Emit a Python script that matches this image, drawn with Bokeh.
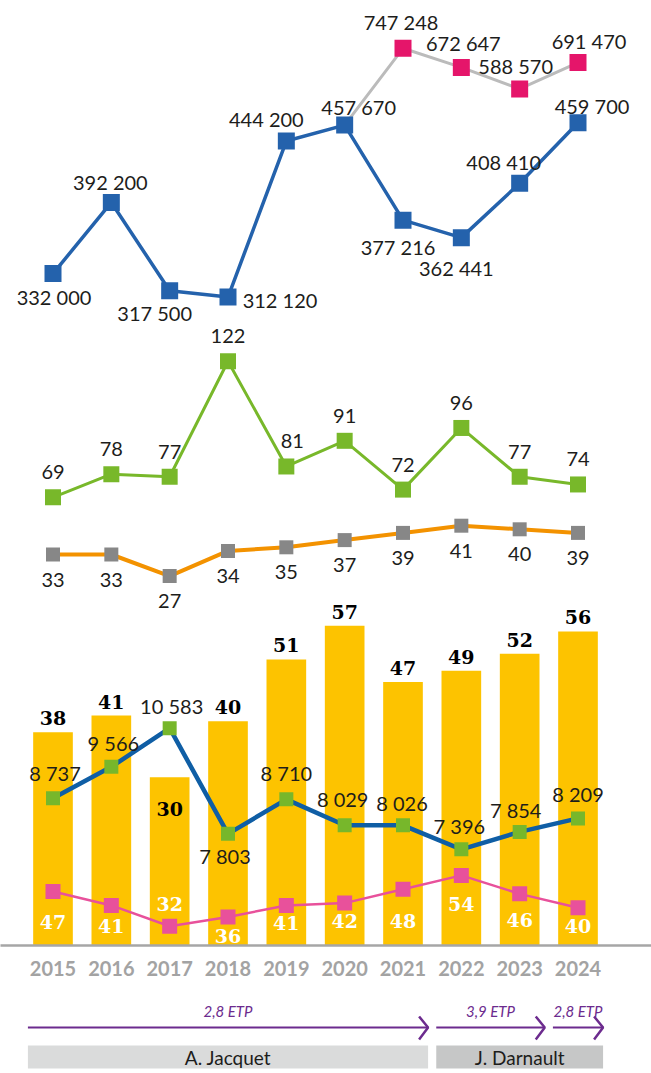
from bokeh.plotting import figure
from bokeh.models import Range1d, ColumnDataSource, LinearAxis, FixedTicker
from bokeh.layouts import column
from bokeh.embed import file_html
from bokeh.resources import INLINE
from bokeh.core.properties import value

# ---------------- data ----------------
years = [2015, 2016, 2017, 2018, 2019, 2020, 2021, 2022, 2023, 2024]
year_labels = ["2015", "2016", "2017", "2018", "2019", "2020", "2021", "2022", "2023", "2024"]

budget_bleu = [332000, 392200, 317500, 312120, 444200, 457670, 377216, 362441, 408410, 459700]
budget_rose_years = [2021, 2022, 2023, 2024]
budget_rose = [747248, 672647, 588570, 691470]

serie_verte = [69, 78, 77, 122, 81, 91, 72, 96, 77, 74]
serie_orange = [33, 33, 27, 34, 35, 37, 39, 41, 40, 39]

barres = [38, 41, 30, 40, 51, 57, 47, 49, 52, 56]
serie_bleue_bas = [8737, 9566, 10583, 7803, 8710, 8029, 8026, 7396, 7854, 8209]
serie_rose_bas = [47, 41, 32, 36, 41, 42, 48, 54, 46, 40]

etp_labels = ["2,8 ETP", "3,9 ETP", "2,8 ETP"]
etp_debut = [2015, 2022, 2024]
etp_fin = [2021, 2023, 2024]
personnes = ["A. Jacquet", "J. Darnault"]
pers_debut = [2015, 2022]
pers_fin = [2021, 2024]

# ---------------- layout / style ----------------
W = 651
BASE = 945          # frame bottom (bar baseline)
AXIS_H = 40
FRAME_H = BASE
H_MAIN = FRAME_H + AXIS_H
FOOT_H = 85
INK = "#1D1D1B"
PURPLE = "#6C2B8E"


def fmt(v):
    return f"{v:,}".replace(",", "\u00a0")


def lin_range(v1, p1, v2, p2, size):
    b = (v2 - v1) / (p2 - p1)
    start = v1 - b * p1
    return Range1d(start=start, end=start + b * size)


def yr(v1, y1, v2, y2):
    return lin_range(v1, BASE - y1, v2, BASE - y2, FRAME_H)


def convert(v, src, dst):
    frac = (v - src.start) / (src.end - src.start)
    return dst.start + frac * (dst.end - dst.start)


x_rng = lin_range(years[0], 52.5, years[-1], 577.5, W)
px_per_year = W / (x_rng.end - x_rng.start)

r_barres = yr(0, 945, 57, 625.3)
pA = figure(width=W, height=H_MAIN, x_range=x_rng, y_range=r_barres,
            output_backend="svg", toolbar_location=None,
            x_axis_location=None, y_axis_location=None,
            min_border=0, min_border_bottom=AXIS_H,
            outline_line_color=None, background_fill_color="white")
pA.grid.visible = False
pA.extra_y_ranges = {
    "bleu": yr(312120, 296.6, 459700, 122.2),
    "rose": yr(588570, 88.4, 747248, 47.8),
    "vert": yr(69, 496.8, 122, 360.7),
    "orange": yr(27, 575.6, 41, 525.2),
    "bleu_bas": yr(7396, 848.8, 10583, 727.7),
    "rose_bas": yr(32, 925.7, 54, 874.9),
}

ax = LinearAxis(ticker=FixedTicker(ticks=years),
                major_label_overrides={y: l for y, l in zip(years, year_labels)})
ax.axis_line_color = "#A6A6A6"
ax.axis_line_width = 2.5
ax.major_tick_line_color = None
ax.minor_tick_line_color = None
ax.major_label_text_font = "Lato"
ax.major_label_text_font_style = "bold"
ax.major_label_text_font_size = "20px"
ax.major_label_text_color = "#A3A3A3"
ax.major_label_standoff = 9
pA.add_layout(ax, "below")


def labels(p, xs, ys, texts, dx, dy, rname="default", size="20px", color=INK,
           font="Lato", style="normal"):
    src = ColumnDataSource(dict(x=xs, y=ys, t=texts, dx=dx, dy=dy))
    p.text(x="x", y="y", text="t", x_offset="dx", y_offset="dy", source=src,
           y_range_name=rname, text_align="center", text_baseline="middle",
           text_font=value(font), text_font_size=size, text_color=color,
           text_font_style=style)


# ---- bottom panel: bars + two lines ----
pA.vbar(x=years, top=barres, bottom=0, width=0.68, fill_color="#FDC300", line_color=None)

pA.line(years, serie_rose_bas, y_range_name="rose_bas", line_color="#E8519B", line_width=2.5)
pA.scatter(years, serie_rose_bas, y_range_name="rose_bas", marker="square", size=15,
           fill_color="#E8519B", line_color=None)

pA.line(years, serie_bleue_bas, y_range_name="bleu_bas", line_color="#0F5EA5", line_width=4.5,
        line_join="round")
pA.scatter(years, serie_bleue_bas, y_range_name="bleu_bas", marker="square", size=14,
           fill_color="#77B72B", line_color=None)

# ---- top panel ----
gris_x = [years[5]] + budget_rose_years
gris_y = [convert(budget_bleu[5], pA.extra_y_ranges["bleu"], pA.extra_y_ranges["rose"])] + budget_rose
pA.line(gris_x, gris_y, y_range_name="rose", line_color="#BBBBBB", line_width=3)
pA.line(years, budget_bleu, y_range_name="bleu", line_color="#2462AC", line_width=3.5,
        line_join="round")
pA.scatter(years, budget_bleu, y_range_name="bleu", marker="square", size=17,
           fill_color="#2462AC", line_color=None)
pA.scatter(budget_rose_years, budget_rose, y_range_name="rose", marker="square", size=17,
           fill_color="#E5156A", line_color=None)

# ---- middle panel ----
pA.line(years, serie_verte, y_range_name="vert", line_color="#78B82A", line_width=3,
        line_join="round")
pA.scatter(years, serie_verte, y_range_name="vert", marker="square", size=16,
           fill_color="#78B82A", line_color=None)
pA.line(years, serie_orange, y_range_name="orange", line_color="#F39200", line_width=4,
        line_join="round")
pA.scatter(years, serie_orange, y_range_name="orange", marker="square", size=14,
           fill_color="#878787", line_color=None)

# ---- labels ----
labels(pA, years, budget_bleu, [fmt(v) for v in budget_bleu],
       [1, -1, -15, 52, -20, 14, -5, -5, -16, 14],
       [23, -20, 22, 3, -22, -18, 27, 30, -21, -17], "bleu")
labels(pA, budget_rose_years, budget_rose, [fmt(v) for v in budget_rose],
       [-2, 2, -4, 11], [-26, -24, -23, -22], "rose")
labels(pA, years, serie_verte, [str(v) for v in serie_verte],
       [0, 0, 0, 0, 6, 0, 0, 0, 0, 0], [-25] * 10, "vert")
labels(pA, years, serie_orange, [str(v) for v in serie_orange],
       [0] * 10, [25] * 10, "orange")
labels(pA, years, barres, [str(v) for v in barres],
       [0] * 10, [-14, -14, 32, -14, -14, -14, -14, -14, -14, -14], "default",
       size="19px", font="DejaVu Serif", style="bold", color="#000000")
labels(pA, years, serie_bleue_bas, [fmt(v) for v in serie_bleue_bas],
       [2, 2, 2, -3, 0, -2, -1, -2, -4, 0],
       [-25, -24, -22, 22, -26, -26, -22, -23, -22, -24], "bleu_bas")
labels(pA, years, serie_rose_bas, [str(v) for v in serie_rose_bas],
       [0] * 10, [30, 21, -22, 19, 18, 18, 32, 29, 26, 18], "rose_bas",
       size="19px", font="DejaVu Serif", style="bold", color="#FFFFFF")

# ---------------- footer: periods ----------------
pB = figure(width=W, height=FOOT_H, x_range=x_rng, y_range=Range1d(FOOT_H, 0),
            output_backend="svg", toolbar_location=None,
            x_axis_location=None, y_axis_location=None,
            min_border=0, outline_line_color=None)
pB.grid.visible = False

gap = 0.07
chev = 9 / px_per_year
e_left = [d - 0.5 + gap for d in etp_debut]
e_right = [f + 0.5 - gap for f in etp_fin]
pB.segment(x0=e_left, x1=e_right, y0=[42] * 3, y1=[42] * 3, line_color=PURPLE, line_width=2)
pB.multi_line(xs=[[r - chev, r, r - chev] for r in e_right], ys=[[31, 42, 54]] * 3,
              line_color=PURPLE, line_width=2.5)
pB.text(x=[(l + r) / 2 for l, r in zip(e_left, e_right)], y=[25] * 3, text=etp_labels,
        text_align="center", text_baseline="middle", text_font=value("Lato"),
        text_font_style="italic", text_font_size="15px", text_color=PURPLE)

p_left = [d - 0.5 + gap for d in pers_debut]
p_right = [f + 0.5 - gap for f in pers_fin]
pB.quad(left=p_left, right=p_right, top=[60] * 2, bottom=[83] * 2,
        fill_color=["#DADBDB", "#C6C7C7"], line_color=None)
pB.text(x=[(l + r) / 2 for l, r in zip(p_left, p_right)], y=[72] * 2, text=personnes,
        text_align="center", text_baseline="middle", text_font=value("Lato"),
        text_font_size="19px", text_color=INK)

layout = column(pA, pB)
open("out.html", "w").write(file_html(layout, INLINE))
